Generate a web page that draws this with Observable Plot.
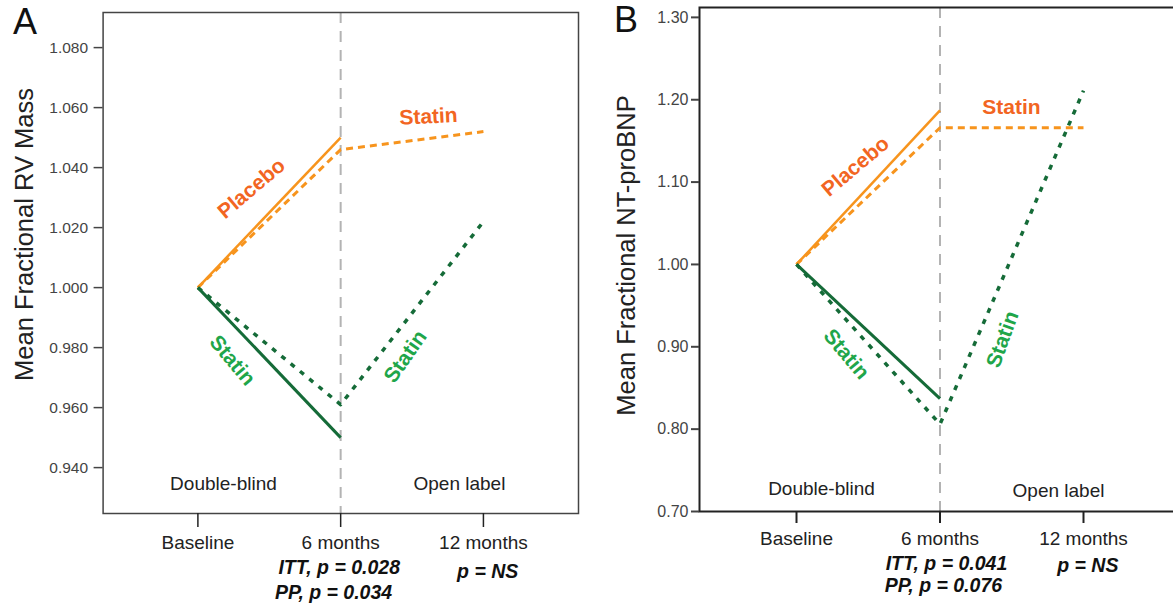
<!DOCTYPE html>
<html>
<head>
<meta charset="utf-8">
<script src="https://cdn.jsdelivr.net/npm/d3@7"></script>
<script src="https://cdn.jsdelivr.net/npm/@observablehq/plot@0.6"></script>
<style>
  html, body { margin: 0; padding: 0; background: #fff; }
  #wrap { position: relative; width: 1173px; height: 604px; overflow: hidden; font-family: "Liberation Sans", Arial, sans-serif; }
  .panel { position: absolute; top: 0; width: 600px; height: 604px; }
  #wrap svg { max-width: none !important; }
  .tag { position: absolute; font-size: 36px; line-height: 36px; color: #111; font-family: "Liberation Sans", Arial, sans-serif; }
</style>
</head>
<body>
<div id="wrap">
  <div class="panel" id="pa" style="left:0px"></div>
  <div class="panel" id="pb" style="left:590px"></div>
  <div class="tag" style="left:13px; top:4px">A</div>
  <div class="tag" style="left:614px; top:2px">B</div>
</div>
<script>
// ---- data ----
const timepoints = ["Baseline", "6 months", "12 months"];

// Panel A: Mean Fractional RV Mass
const rvPlaceboITT = [1.000, 1.050];          // solid orange (double-blind)
const rvPlaceboPP  = [1.000, 1.046, 1.052];   // dashed orange (then open-label statin)
const rvStatinITT  = [1.000, 0.950];          // solid green
const rvStatinPP   = [1.000, 0.961, 1.022];   // dotted green
const rvTicks = [0.94, 0.96, 0.98, 1.00, 1.02, 1.04, 1.06, 1.08];

// Panel B: Mean Fractional NT-proBNP
const bnpPlaceboITT = [1.00, 1.187];
const bnpPlaceboPP  = [1.00, 1.166, 1.166];
const bnpStatinITT  = [1.00, 0.837];
const bnpStatinPP   = [1.00, 0.806, 1.211];
const bnpTicks = [0.70, 0.80, 0.90, 1.00, 1.10, 1.20, 1.30];

const pA = {itt: "ITT, p = 0.028", pp: "PP, p = 0.034", ns: "p = NS"};
const pB = {itt: "ITT, p = 0.041", pp: "PP, p = 0.076", ns: "p = NS"};

// ---- styling ----
const ORANGE = "#F7941D", ORANGE_TXT = "#F26522";
const GREEN = "#156B38", GREEN_TXT = "#1FA64A";
const FONT = "Liberation Sans, Arial, sans-serif";
const pts = arr => arr.map((v, i) => ({i, v}));

function series(vals, stroke, width, dash) {
  return Plot.line(pts(vals), {x: "i", y: "v", stroke, strokeWidth: width, strokeDasharray: dash, strokeLinecap: "butt"});
}

function pText(s, x, dy) {
  return Plot.text([s], {text: d => d, x, frameAnchor: "bottom", dy, textAnchor: "middle", lineAnchor: "middle",
    fontSize: 19.5, fontWeight: "bold", fontStyle: "italic", fill: "#111"});
}

function panel(cfg) {
  return Plot.plot({
    width: cfg.width, height: 604,
    marginLeft: cfg.ml, marginRight: cfg.mr, marginTop: cfg.mt, marginBottom: cfg.mb,
    style: {fontFamily: FONT, background: "transparent", color: "#222", overflow: "visible", maxWidth: "none"},
    x: {type: "linear", domain: cfg.xdom, axis: null},
    y: {domain: cfg.ydom, axis: null},
    marks: [
      Plot.ruleX([1], {stroke: "#b3b3b3", strokeWidth: 2, strokeDasharray: "11,8"}),
      Plot.frame({stroke: cfg.frameColor, strokeWidth: cfg.frameWidth}),
      Plot.axisY(cfg.ticks, {tickSize: cfg.ytick, tickPadding: cfg.ypad, tickFormat: d3.format(cfg.fmt),
        fontSize: cfg.yfont, color: "#444", strokeWidth: cfg.frameWidth, label: null}),
      Plot.axisX([0, 1, 2], {tickSize: cfg.xtick, tickPadding: 8, tickFormat: i => timepoints[i],
        fontSize: 19, color: "#222", strokeWidth: cfg.frameWidth, label: null}),
      series(cfg.placeboPP, ORANGE, 3, "7,5"),
      series(cfg.placeboITT, ORANGE, 2.5),
      series(cfg.statinPP, GREEN, 3.5, "5,7"),
      series(cfg.statinITT, GREEN, 3),
      Plot.text(cfg.labels, {x: "x", y: "y", text: "t", rotate: "r", fill: "c", fontSize: 21, fontWeight: "bold"}),
      Plot.text(cfg.phases, {x: "x", y: "y", text: "t", fontSize: 19, fill: "#222"}),
      Plot.text([cfg.title], {text: d => d, frameAnchor: "left", textAnchor: "middle", lineAnchor: "middle",
        rotate: -90, dx: cfg.tdx, dy: cfg.tdy, fontSize: 25.5, fill: "#222"}),
      pText(cfg.p.itt, cfg.ittX, cfg.ittDy),
      pText(cfg.p.pp, cfg.ppX, cfg.ppDy),
      pText(cfg.p.ns, 2.03, cfg.nsDy)
    ]
  });
}

const chartA = panel({
  width: 590, ml: 102.6, mr: 12, mt: 12, mb: 91,
  xdom: [-0.664, 2.666], ydom: [0.9247, 1.0917],
  frameColor: "#444", frameWidth: 1.5,
  ticks: rvTicks, fmt: ".3f", ytick: 9, ypad: 6, yfont: 15.5, xtick: 14,
  placeboITT: rvPlaceboITT, placeboPP: rvPlaceboPP, statinITT: rvStatinITT, statinPP: rvStatinPP,
  labels: [
    {x: 0.375, y: 1.033, t: "Placebo", r: -40, c: ORANGE_TXT},
    {x: 1.615, y: 1.057, t: "Statin", r: -3, c: ORANGE_TXT},
    {x: 0.242, y: 0.9757, t: "Statin", r: 50, c: GREEN_TXT},
    {x: 1.454, y: 0.977, t: "Statin", r: -55, c: GREEN_TXT}
  ],
  phases: [
    {x: 0.179, y: 0.9347, t: "Double-blind"},
    {x: 1.832, y: 0.9344, t: "Open label"}
  ],
  title: "Mean Fractional RV Mass", tdx: -78.6, tdy: -28.5,
  p: pA, ittX: 0.99, ppX: 0.95, ittDy: 54, ppDy: 79, nsDy: 58
});

const chartB = panel({
  width: 600, ml: 109, mr: 10, mt: 7, mb: 93,
  xdom: [-0.676, 2.676], ydom: [0.70, 1.312],
  frameColor: "#222", frameWidth: 2,
  ticks: bnpTicks, fmt: ".2f", ytick: 8, ypad: 3, yfont: 16, xtick: 12,
  placeboITT: bnpPlaceboITT, placeboPP: bnpPlaceboPP, statinITT: bnpStatinITT, statinPP: bnpStatinPP,
  labels: [
    {x: 0.411, y: 1.119, t: "Placebo", r: -40, c: ORANGE_TXT},
    {x: 1.498, y: 1.191, t: "Statin", r: 0, c: ORANGE_TXT},
    {x: 0.348, y: 0.891, t: "Statin", r: 50, c: GREEN_TXT},
    {x: 1.436, y: 0.909, t: "Statin", r: -70, c: GREEN_TXT}
  ],
  phases: [
    {x: 0.174, y: 0.728, t: "Double-blind"},
    {x: 1.826, y: 0.7255, t: "Open label"}
  ],
  title: "Mean Fractional NT-proBNP", tdx: -73, tdy: -4,
  p: pB, ittX: 1.045, ppX: 1.024, ittDy: 52, ppDy: 74, nsDy: 54
});

document.getElementById("pa").appendChild(chartA);
document.getElementById("pb").appendChild(chartB);
</script>
</body>
</html>
